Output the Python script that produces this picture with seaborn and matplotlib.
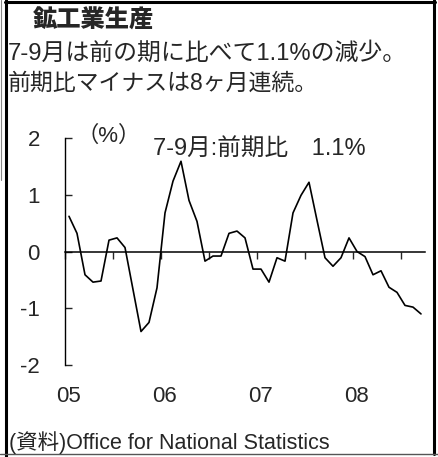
import numpy as np
import pandas as pd
import matplotlib
matplotlib.use("Agg")
import matplotlib.pyplot as plt
import seaborn as sns
from matplotlib.lines import Line2D

# monthly change vs previous 3 months (%), Jan 2005 - Sep 2008
values = [0.62, 0.32, -0.41, -0.54, -0.52, 0.20, 0.24, 0.07, -0.67, -1.41, -1.25, -0.64,
          0.68, 1.24, 1.59, 0.90, 0.53, -0.17, -0.08, -0.08, 0.32, 0.36, 0.24, -0.31,
          -0.31, -0.54, -0.11, -0.17, 0.68, 0.99, 1.22, 0.55, -0.11, -0.26, -0.11, 0.24,
          0.00, -0.09, -0.41, -0.34, -0.63, -0.72, -0.95, -0.98, -1.10]
year_labels = ["05", "06", "07", "08"]
y_ticks = [-2, -1, 0, 1, 2]

title = "鉱工業生産"
line1 = "7-9月は前の期に比べて1.1%の減少。"
line2 = "前期比マイナスは8ヶ月連続。"
note = "7-9月:前期比　1.1%"
unit = "（%）"
source = "(資料)Office for National Statistics"

df = pd.DataFrame({"month": np.arange(len(values)) + 0.5, "value": values})

sns.set_style("white")
plt.rcParams["font.family"] = ["Liberation Sans", "Noto Sans CJK JP", "DejaVu Sans"]
FAM = ["Liberation Sans", "Noto Sans CJK JP"]

W, H = 438, 457
fig = plt.figure(figsize=(W / 100, H / 100), dpi=100)
ax = fig.add_axes([65 / W, 1 - 365 / H, 360 / W, 227 / H])

sns.lineplot(data=df, x="month", y="value", color="black", linewidth=1.2, ax=ax)

ax.set_xlim(0, 45)
ax.set_ylim(-2, 2)
ax.set_xlabel("")
ax.set_ylabel("")

for s in ["top", "right"]:
    ax.spines[s].set_visible(False)
ax.spines["left"].set_color("black")
ax.spines["left"].set_linewidth(1.0)
ax.spines["bottom"].set_position(("data", 0))
ax.spines["bottom"].set_color("black")
ax.spines["bottom"].set_linewidth(1.1)

ax.set_yticks(y_ticks)
ax.set_yticklabels([str(t) for t in y_ticks], fontsize=16)
ax.tick_params(axis="y", direction="in", length=5, width=1, pad=18, left=True)
ax.set_xticks(np.arange(0, 45, 6))
ax.set_xticklabels([])
ax.tick_params(axis="x", direction="out", length=5, width=1, bottom=True)

for k, lab in enumerate(year_labels):
    ax.text(12 * k + 0.4, -2.56, lab, ha="center", va="center", fontsize=16,
            family=FAM, clip_on=False)

ax.text(1.4, 2.03, unit, ha="left", va="center", fontsize=16, family=FAM, clip_on=False)
ax.text(11.0, 1.8, note, ha="left", va="center", fontsize=17, family=FAM)

fig.text(33 / W, 1 - 20 / H, title, ha="left", va="center", fontsize=17.5,
         fontweight="black", family=["Noto Sans CJK JP"])
fig.text(8 / W, 1 - 53 / H, line1, ha="left", va="center", fontsize=17.2, family=FAM)
fig.text(8 / W, 1 - 83 / H, line2, ha="left", va="center", fontsize=16.5, family=FAM)
fig.text(9 / W, 1 - 443 / H, source, ha="left", va="center", fontsize=15.5, family=FAM)

# frame around the panel
def fline(x0, y0, x1, y1, lw, color="black"):
    fig.add_artist(Line2D([x0 / W, x1 / W], [1 - y0 / H, 1 - y1 / H],
                          transform=fig.transFigure, color=color, linewidth=lw))

fline(5, 1.5, 435, 1.5, 2.2)
fline(6, 0, 6, 457, 2.2)
fline(433.5, 0, 433.5, 454, 2.2)
fline(0, 453.5, 438, 453.5, 1.0, "#555555")
fline(0.5, 0, 0.5, 180, 0.8, "#888888")

fig.savefig("out.png", dpi=100)
